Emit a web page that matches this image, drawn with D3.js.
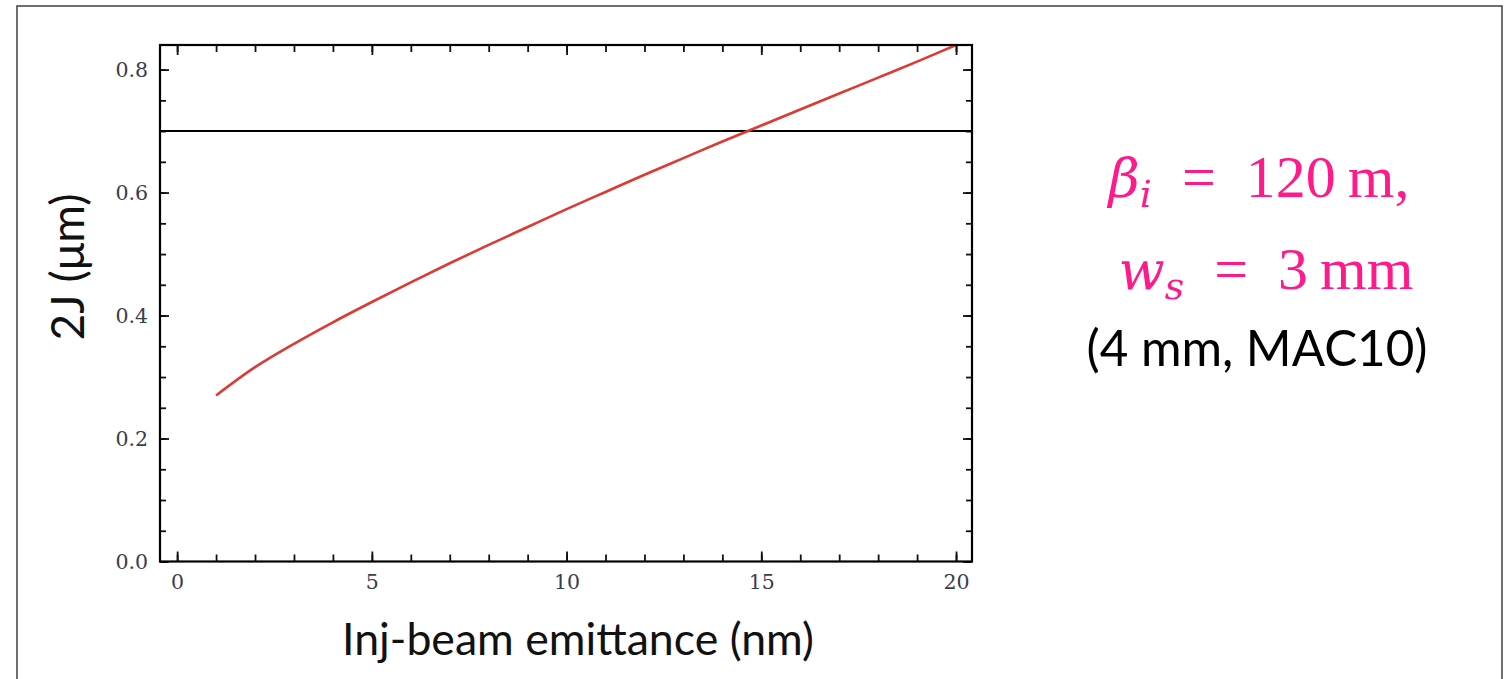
<!DOCTYPE html>
<html>
<head>
<meta charset="utf-8">
<script src="https://cdn.jsdelivr.net/npm/d3@7"></script>
<style>
  html, body { margin: 0; padding: 0; background: #fff; }
  svg { display: block; }
</style>
</head>
<body>
<svg id="chart" width="1510" height="679"></svg>
<script>
// Injection-beam emittance (nm) and the resulting 2J (µm)
const emittance = [1, 2, 3, 4, 5, 6, 7, 8, 9, 10, 11, 12, 13, 14, 15, 16, 17, 18, 19, 20];
const twoJ = [0.270, 0.316, 0.354, 0.389, 0.422, 0.454, 0.485, 0.515, 0.544, 0.573,
              0.601, 0.629, 0.656, 0.683, 0.709, 0.735, 0.761, 0.787, 0.813, 0.840];
// Acceptance level (horizontal reference line)
const acceptance = 0.70;

const xMajorTicks = [0, 5, 10, 15, 20];
const xMinorTicks = d3.range(0, 21, 1);
const yMajorTicks = [0.0, 0.2, 0.4, 0.6, 0.8];
const yMinorTicks = d3.range(0, 17).map(i => +(i * 0.05).toFixed(2));

const xDomain = [-0.44, 20.41];
const yDomain = [0, 0.84];

const xLabel = "Inj-beam emittance (nm)";
const yLabel = "2J (\u03BCm)";
const noteLine3 = "(4 mm, MAC10)";

const svg = d3.select("#chart");

// Slide frame
svg.append("rect")
  .attr("x", 17).attr("y", 6)
  .attr("width", 1485).attr("height", 720)
  .attr("fill", "none")
  .attr("stroke", "#4a4a4a")
  .attr("stroke-width", 1.6);

const plot = { left: 160, top: 45, right: 972, bottom: 561.5 };

const x = d3.scaleLinear().domain(xDomain).range([plot.left, plot.right]);
const y = d3.scaleLinear().domain(yDomain).range([plot.bottom, plot.top]);

const tickFont = "'DejaVu Serif', serif";
const tickColor = "#3c3c50";

function styleAxis(g) {
  g.select(".domain").remove();
  g.selectAll(".tick line").attr("stroke", "#111").attr("stroke-width", 1.8);
  g.selectAll(".tick text")
    .attr("font-family", tickFont)
    .attr("font-size", 20.5)
    .attr("fill", tickColor);
}

// Bottom axis: minor then major ticks, drawn inward
svg.append("g").attr("transform", `translate(0,${plot.bottom})`)
  .call(d3.axisBottom(x).tickValues(xMinorTicks).tickSize(-7).tickFormat(""))
  .call(styleAxis);
svg.append("g").attr("transform", `translate(0,${plot.bottom})`)
  .call(d3.axisBottom(x).tickValues(xMajorTicks).tickSize(-10).tickPadding(13)
        .tickFormat(d3.format("d")))
  .call(styleAxis);

// Left axis
svg.append("g").attr("transform", `translate(${plot.left},0)`)
  .call(d3.axisLeft(y).tickValues(yMinorTicks).tickSize(-6).tickFormat(""))
  .call(styleAxis);
svg.append("g").attr("transform", `translate(${plot.left},0)`)
  .call(d3.axisLeft(y).tickValues(yMajorTicks).tickSize(-9).tickPadding(12)
        .tickFormat(d3.format(".1f")))
  .call(styleAxis);

// Top and right mirrored ticks, no labels
svg.append("g").attr("transform", `translate(0,${plot.top})`)
  .call(d3.axisTop(x).tickValues(xMinorTicks).tickSize(-7).tickFormat(""))
  .call(styleAxis);
svg.append("g").attr("transform", `translate(0,${plot.top})`)
  .call(d3.axisTop(x).tickValues(xMajorTicks).tickSize(-10).tickFormat(""))
  .call(styleAxis);
svg.append("g").attr("transform", `translate(${plot.right},0)`)
  .call(d3.axisRight(y).tickValues(yMinorTicks).tickSize(-6).tickFormat(""))
  .call(styleAxis);
svg.append("g").attr("transform", `translate(${plot.right},0)`)
  .call(d3.axisRight(y).tickValues(yMajorTicks).tickSize(-9).tickFormat(""))
  .call(styleAxis);

// Clip region for data marks
svg.append("clipPath").attr("id", "plot-clip")
  .append("rect")
  .attr("x", plot.left).attr("y", plot.top)
  .attr("width", plot.right - plot.left).attr("height", plot.bottom - plot.top);

// Acceptance line
svg.append("line")
  .attr("x1", x(xDomain[0])).attr("x2", x(xDomain[1]))
  .attr("y1", y(acceptance)).attr("y2", y(acceptance))
  .attr("stroke", "#000").attr("stroke-width", 2);

// 2J curve
const line = d3.line()
  .x((d, i) => x(emittance[i]))
  .y(d => y(d))
  .curve(d3.curveCatmullRom.alpha(0.5));

svg.append("path")
  .datum(twoJ)
  .attr("clip-path", "url(#plot-clip)")
  .attr("d", line)
  .attr("fill", "none")
  .attr("stroke", "#dc3a32")
  .attr("stroke-width", 2.6)
  .attr("stroke-linecap", "butt");

// Plot frame
svg.append("rect")
  .attr("x", plot.left).attr("y", plot.top)
  .attr("width", plot.right - plot.left).attr("height", plot.bottom - plot.top)
  .attr("fill", "none").attr("stroke", "#000").attr("stroke-width", 2.2);

// Fit a text element to a target width by adjusting its font size
function fitWidth(sel, target) {
  const fs = parseFloat(sel.attr("font-size"));
  const w = sel.node().getComputedTextLength();
  if (w > 0) sel.attr("font-size", (fs * target / w).toFixed(2));
}

const labelFont = "Lato, 'Open Sans', sans-serif";

// Axis titles
const xt = svg.append("text")
  .attr("x", 578).attr("y", 655)
  .attr("text-anchor", "middle")
  .attr("font-family", labelFont)
  .attr("font-size", 42)
  .attr("fill", "#111")
  .text(xLabel);
fitWidth(xt, 472);

const yt = svg.append("text")
  .attr("transform", "translate(84,267) rotate(-90)")
  .attr("text-anchor", "middle")
  .attr("font-family", labelFont)
  .attr("font-size", 44)
  .attr("fill", "#111")
  .text(yLabel);
fitWidth(yt, 147);

// Parameter annotations (math-style: italic symbols, lowered subscripts)
const pink = "#ff1a8c";
const mathFont = "'Liberation Serif', serif";
const mathItalic = "'DejaVu Serif', serif";

function mathLine(xc, yb, sym, sub, rest) {
  const t = svg.append("text")
    .attr("x", xc).attr("y", yb)
    .attr("text-anchor", "middle")
    .attr("font-family", mathFont)
    .attr("font-size", 60)
    .attr("fill", pink)
    .attr("xml:space", "preserve");
  t.append("tspan").attr("font-family", mathItalic).attr("font-style", "italic")
    .attr("font-size", 54).text(sym);
  t.append("tspan").attr("font-family", mathItalic).attr("font-style", "italic")
    .attr("font-size", 38).attr("dy", 10).text(sub);
  t.append("tspan").attr("dy", -10).text(rest);
  return t;
}

mathLine(1259, 197, "\u03B2", "i", "  =  120\u2009m,");
mathLine(1266, 289, "w", "s", "  =  3\u2009mm");

const n3 = svg.append("text")
  .attr("x", 1257).attr("y", 366)
  .attr("text-anchor", "middle")
  .attr("font-family", labelFont)
  .attr("font-size", 40)
  .attr("fill", "#000")
  .text(noteLine3);
fitWidth(n3, 341);
</script>
</body>
</html>
